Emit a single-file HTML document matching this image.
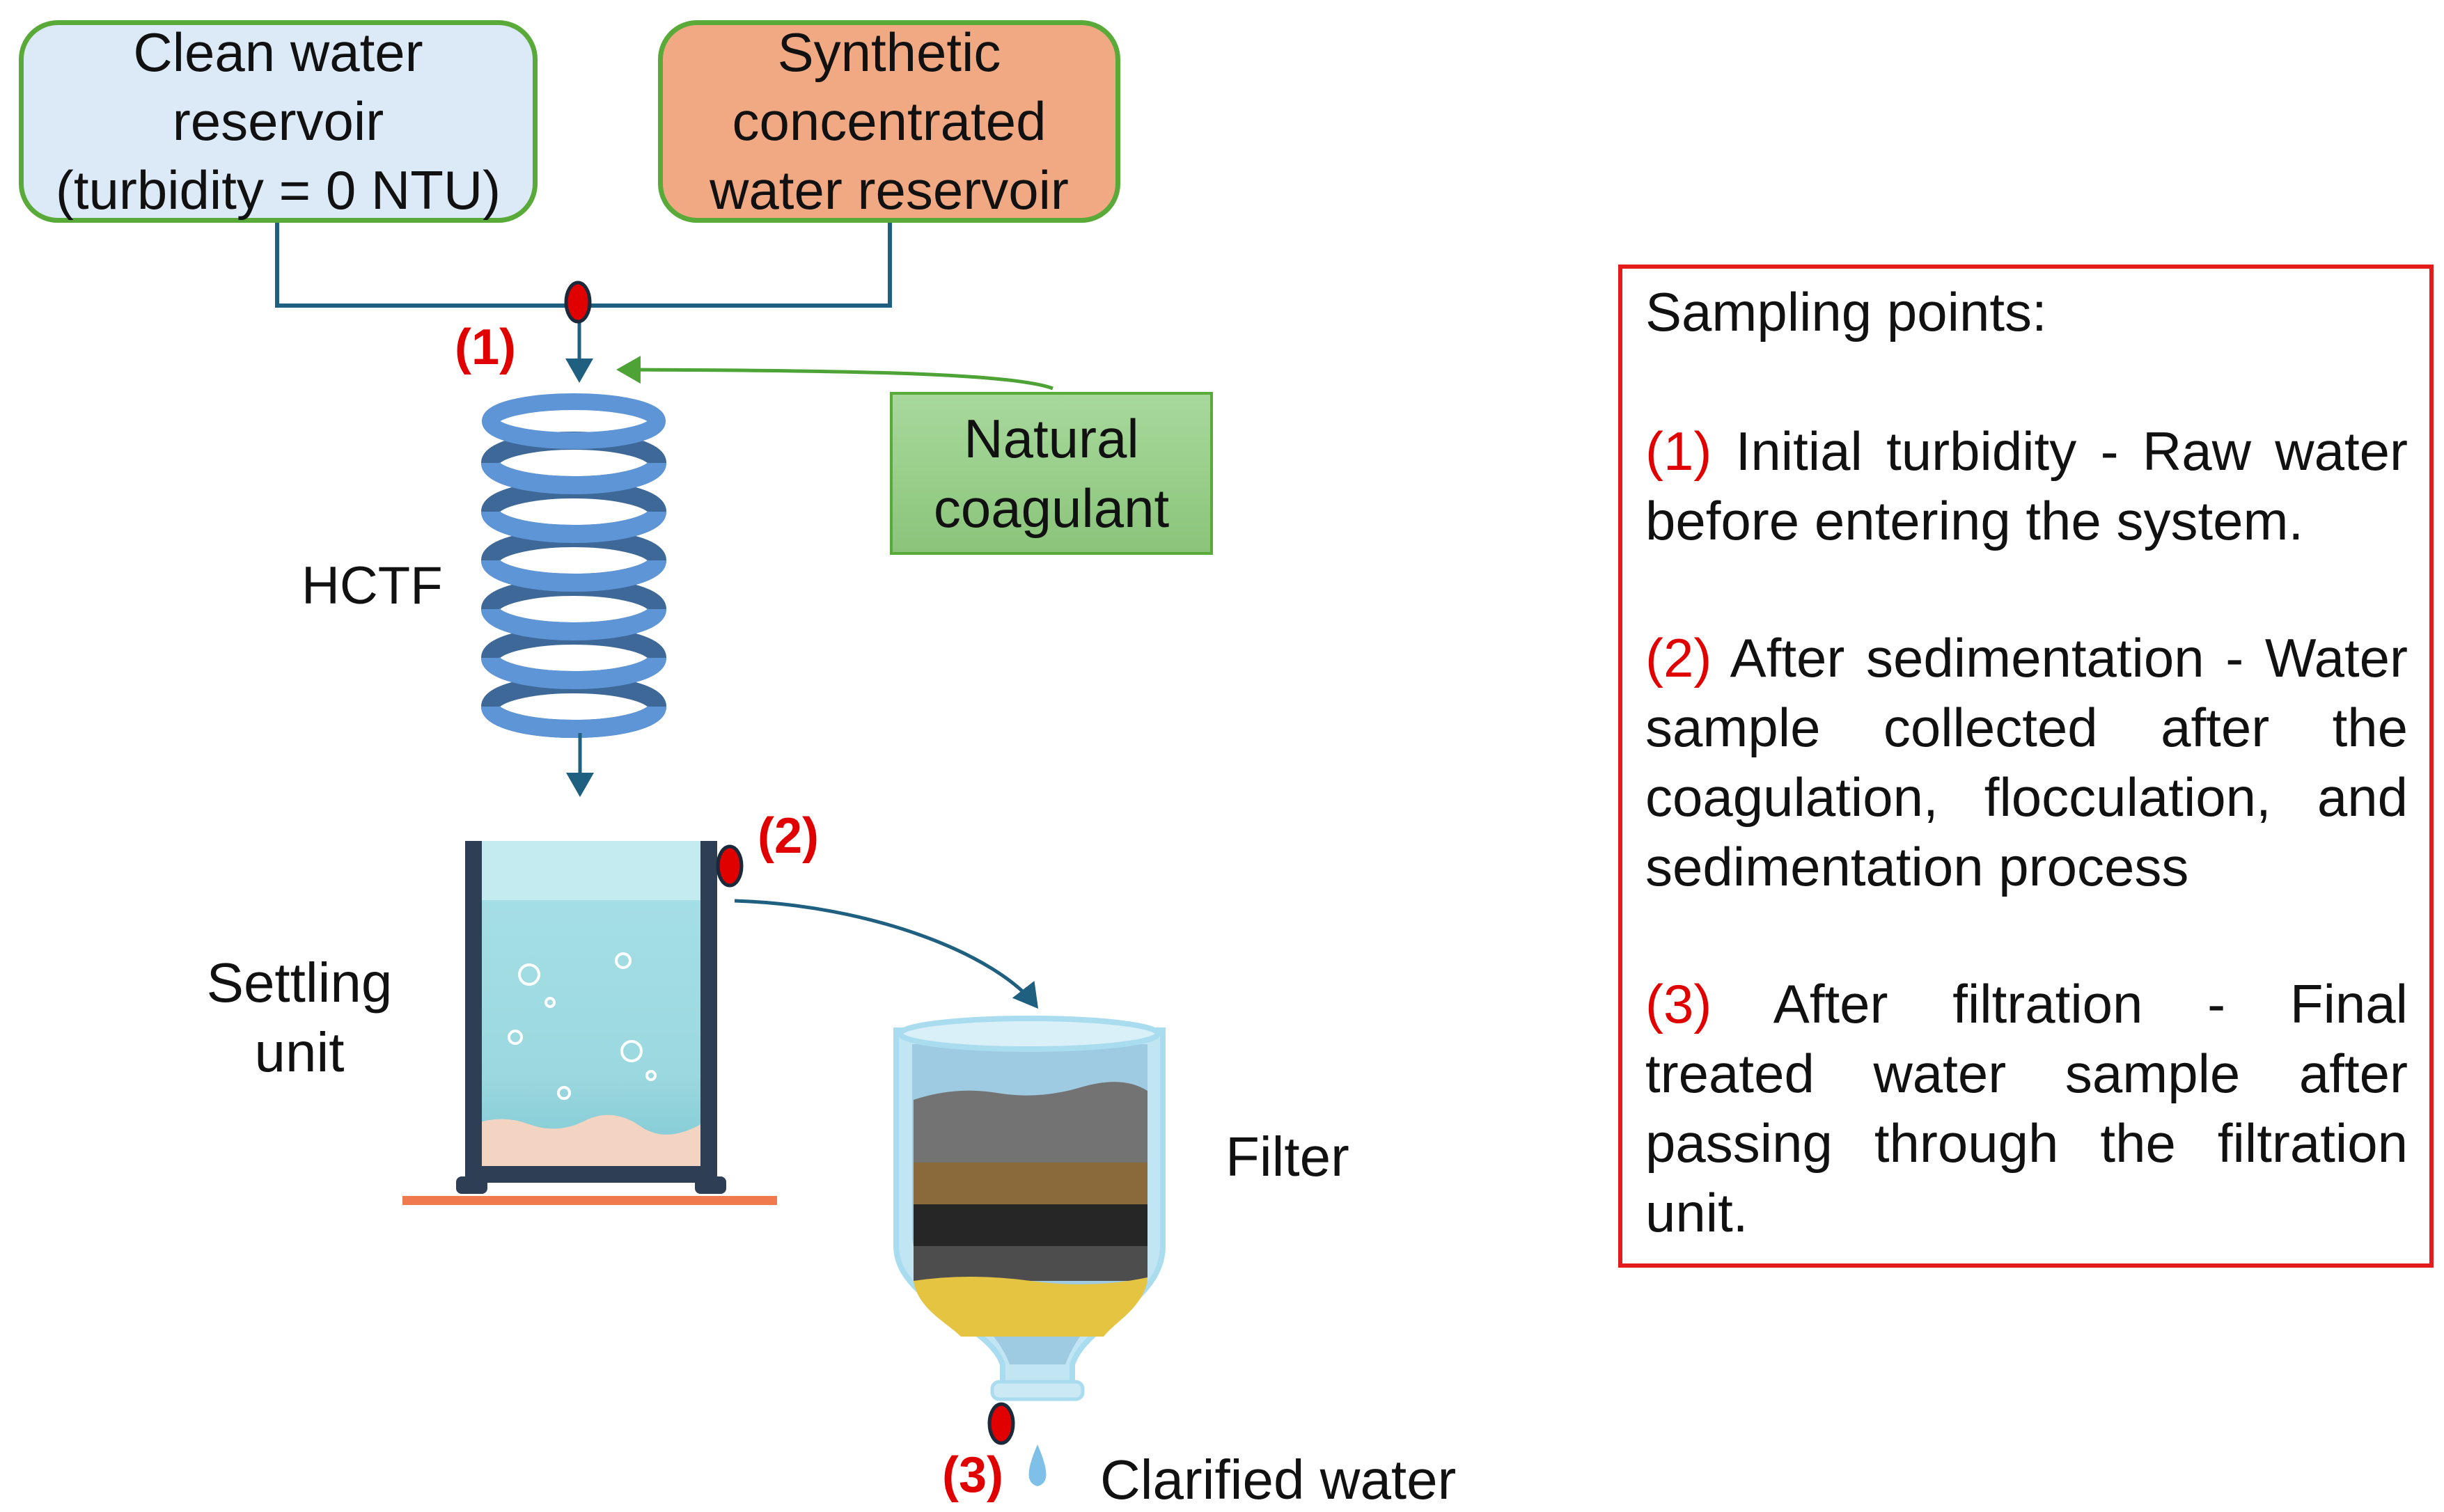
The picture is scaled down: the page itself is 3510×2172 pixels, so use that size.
<!DOCTYPE html>
<html><head><meta charset="utf-8"><style>
body{margin:0;width:3510px;height:2171px;background:#fff;overflow:hidden;position:relative;font-family:"Liberation Sans",sans-serif;}
.t{position:absolute;color:#111;}
.box{position:absolute;box-sizing:border-box;text-align:center;font-size:78px;line-height:99px;color:#111;}
.rl{position:absolute;left:2363px;width:1095px;font-size:78px;line-height:90px;color:#111;white-space:nowrap;}
.j{text-align:justify;text-align-last:justify;white-space:normal;}
.r{color:#e00000;}
.lbl{position:absolute;color:#e00000;font-weight:bold;font-size:72px;}
</style></head><body>
<svg width="3510" height="2171" style="position:absolute;left:0;top:0">
<defs>
<linearGradient id="ng" x1="0" y1="0" x2="0" y2="1"><stop offset="0" stop-color="#a8d99c"/><stop offset="1" stop-color="#8ac47a"/></linearGradient>
<marker id="ab" markerWidth="8" markerHeight="8" refX="6" refY="4" orient="auto" markerUnits="strokeWidth"><path d="M0,0 L7,4 L0,8 z" fill="#1f5f80"/></marker>
<marker id="ag" markerWidth="8" markerHeight="8" refX="6" refY="4" orient="auto" markerUnits="strokeWidth"><path d="M0,0 L7,4 L0,8 z" fill="#4ea336"/></marker>
<linearGradient id="wt" x1="0" y1="0" x2="0" y2="1"><stop offset="0" stop-color="#a8e1e7"/><stop offset="0.7" stop-color="#9bd8df"/><stop offset="1" stop-color="#7cc7d2"/></linearGradient>
</defs>
<polyline points="398,320 398,439 1278,439 1278,320" fill="none" stroke="#1f5f80" stroke-width="6"/>
<line x1="832" y1="460" x2="832" y2="545" stroke="#1f5f80" stroke-width="5" marker-end="url(#ab)"/>
<path d="M1512,558 C1450,535 1200,532 890,531" fill="none" stroke="#4ea336" stroke-width="5" marker-end="url(#ag)"/>
<ellipse cx="830" cy="434" rx="17" ry="28" fill="#e00000" stroke="#1a2a3a" stroke-width="5"/>
<rect x="1280" y="565" width="460" height="230" fill="url(#ng)" stroke="#5aaa3a" stroke-width="4"/>
<g fill="none">
<ellipse cx="824" cy="1015" rx="120" ry="32" stroke="#3d6898" stroke-width="26"/>
<ellipse cx="824" cy="945" rx="120" ry="32" stroke="#3d6898" stroke-width="26"/>
<ellipse cx="824" cy="875" rx="120" ry="32" stroke="#3d6898" stroke-width="26"/>
<ellipse cx="824" cy="805" rx="120" ry="32" stroke="#3d6898" stroke-width="26"/>
<ellipse cx="824" cy="735" rx="120" ry="32" stroke="#3d6898" stroke-width="26"/>
<ellipse cx="824" cy="665" rx="120" ry="32" stroke="#3d6898" stroke-width="26"/>
<ellipse cx="824" cy="605" rx="120" ry="28" stroke="#5e95d6" stroke-width="24"/>
<path d="M704,1015 A120,32 0 0 0 944,1015" stroke="#5e95d6" stroke-width="26"/>
<path d="M704,945 A120,32 0 0 0 944,945" stroke="#5e95d6" stroke-width="26"/>
<path d="M704,875 A120,32 0 0 0 944,875" stroke="#5e95d6" stroke-width="26"/>
<path d="M704,805 A120,32 0 0 0 944,805" stroke="#5e95d6" stroke-width="26"/>
<path d="M704,735 A120,32 0 0 0 944,735" stroke="#5e95d6" stroke-width="26"/>
<path d="M704,665 A120,32 0 0 0 944,665" stroke="#5e95d6" stroke-width="26"/>
</g>
<line x1="833" y1="1053" x2="833" y2="1140" stroke="#1f5f80" stroke-width="5" marker-end="url(#ab)"/>
<rect x="680" y="1208" width="338" height="480" fill="url(#wt)"/>
<rect x="680" y="1208" width="338" height="85" fill="#c4ecf0"/>
<path d="M680,1615 q40,-15 80,0 t80,-5 t80,8 t98,-10 v80 h-338z" fill="#f3d4c2"/>
<rect x="668" y="1208" width="24" height="490" fill="#2d3e55"/>
<rect x="1006" y="1208" width="24" height="490" fill="#2d3e55"/>
<rect x="668" y="1675" width="362" height="24" fill="#2d3e55"/>
<rect x="655" y="1690" width="45" height="25" rx="8" fill="#2d3e55"/>
<rect x="998" y="1690" width="45" height="25" rx="8" fill="#2d3e55"/>
<rect x="578" y="1718" width="538" height="13" fill="#f07a4e"/>
<g fill="none" stroke="#fff" stroke-width="4">
<circle cx="760" cy="1400" r="14"/><circle cx="895" cy="1380" r="10"/><circle cx="740" cy="1490" r="9"/><circle cx="907" cy="1510" r="14"/><circle cx="810" cy="1570" r="8"/><circle cx="790" cy="1440" r="6"/><circle cx="935" cy="1545" r="6"/></g>
<ellipse cx="1048" cy="1244" rx="17" ry="28" fill="#e00000" stroke="#1a2a3a" stroke-width="5"/>
<path d="M1055,1294 C1250,1300 1430,1370 1488,1445" fill="none" stroke="#1f5f80" stroke-width="5" marker-end="url(#ab)"/>
<path d="M1287,1480 L1670,1480 L1670,1790 C1670,1870 1560,1900 1540,1960 L1540,1990 L1440,1990 L1440,1960 C1420,1900 1287,1870 1287,1790 Z" fill="#c2e5f3" stroke="#a9dcef" stroke-width="8"/>
<path d="M1310,1500 L1648,1500 L1648,1780 C1640,1850 1560,1880 1530,1960 L1450,1960 C1420,1880 1320,1850 1310,1780 Z" fill="#9fcbe2"/>
<path d="M1312,1580 q60,-20 120,-10 t120,-8 t96,5 L1648,1680 L1312,1680 Z" fill="#737373"/>
<rect x="1312" y="1670" width="336" height="65" fill="#8a6a3a"/>
<rect x="1312" y="1730" width="336" height="65" fill="#262626"/>
<rect x="1312" y="1790" width="336" height="50" fill="#4d4d4d"/>
<path d="M1312,1840 q80,-12 168,0 t168,-5 L1648,1840 C1640,1880 1600,1900 1585,1920 L1380,1920 C1360,1900 1318,1880 1312,1840 Z" fill="#e4c440"/>
<ellipse cx="1478" cy="1485" rx="185" ry="22" fill="#d9f0f8" stroke="#a9dcef" stroke-width="8"/>
<rect x="1425" y="1985" width="130" height="25" rx="10" fill="#cbe9f5" stroke="#a9dcef" stroke-width="5"/>
<path d="M1490,2075 C1475,2110 1472,2130 1490,2135 C1508,2130 1505,2110 1490,2075Z" fill="#7fc0e8"/>
<ellipse cx="1438" cy="2045" rx="17" ry="28" fill="#e00000" stroke="#1a2a3a" stroke-width="5"/>
<rect x="2327" y="383" width="1165" height="1435" fill="none" stroke="#e31b1b" stroke-width="6"/>
</svg>

<div class="box" style="left:27px;top:29px;width:745px;height:291px;background:#dce9f7;border:7px solid #5aaa3a;border-radius:56px;padding-top:0"><div style="margin-top:-10px">Clean water<br>reservoir<br>(turbidity = 0 NTU)</div></div>
<div class="box" style="left:945px;top:29px;width:664px;height:291px;background:#f0a982;border:7px solid #5aaa3a;border-radius:56px;padding-top:0"><div style="margin-top:-10px">Synthetic<br>concentrated<br>water reservoir</div></div>
<div class="box" style="left:1280px;top:580px;width:460px;line-height:100px">Natural<br>coagulant</div>

<div class="lbl" style="left:653px;top:458px">(1)</div>
<div class="lbl" style="left:1088px;top:1160px">(2)</div>
<div class="lbl" style="left:1353px;top:2078px">(3)</div>

<div class="t" style="left:433px;top:798px;font-size:76px">HCTF</div>
<div class="t" style="left:280px;top:1362px;font-size:80px;line-height:100px;text-align:center;width:300px">Settling<br>unit</div>
<div class="t" style="left:1760px;top:1616px;font-size:80px">Filter</div>
<div class="t" style="left:1580px;top:2080px;font-size:80px">Clarified water</div>

<div class="rl" style="top:403px">Sampling points:</div>
<div class="rl j" style="top:603px"><span class="r">(1)</span> Initial turbidity - Raw water</div>
<div class="rl" style="top:703px">before entering the system.</div>
<div class="rl j" style="top:900px"><span class="r">(2)</span> After sedimentation - Water</div>
<div class="rl j" style="top:1000px">sample collected after the</div>
<div class="rl j" style="top:1100px">coagulation, flocculation, and</div>
<div class="rl" style="top:1200px">sedimentation process</div>
<div class="rl j" style="top:1397px"><span class="r">(3)</span> After filtration - Final</div>
<div class="rl j" style="top:1497px">treated water sample after</div>
<div class="rl j" style="top:1597px">passing through the filtration</div>
<div class="rl" style="top:1697px">unit.</div>
</body></html>
